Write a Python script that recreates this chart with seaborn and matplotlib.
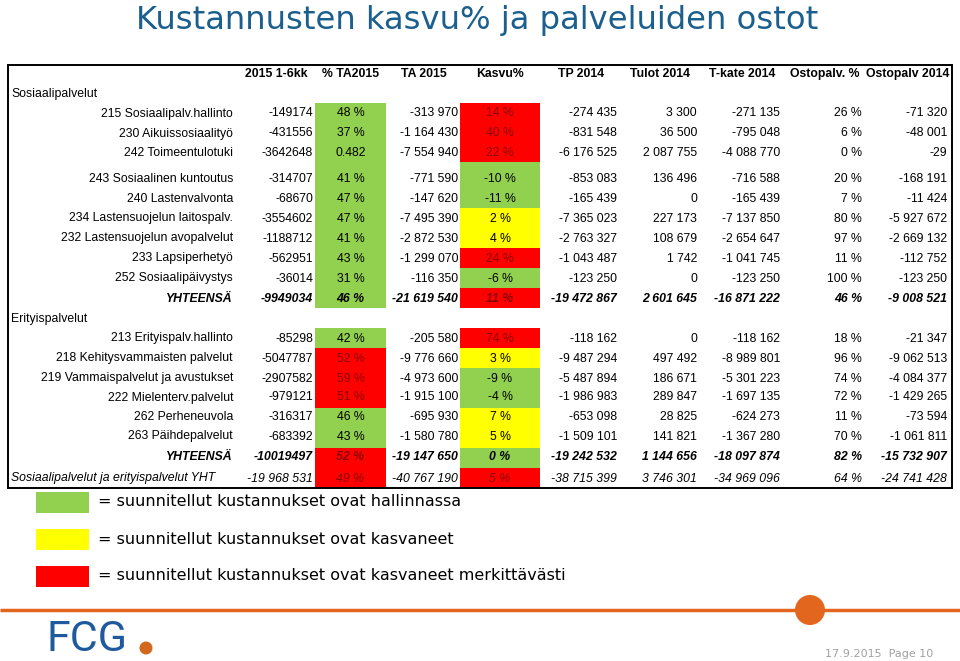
import numpy as np
import pandas as pd
import matplotlib
matplotlib.use("Agg")
import matplotlib.pyplot as plt
from matplotlib.colors import ListedColormap
from matplotlib.patches import Rectangle, Circle
import seaborn as sns

# ---------------- data ----------------
title = "Kustannusten kasvu% ja palveluiden ostot"
headers = ["2015 1-6kk", "% TA2015", "TA 2015", "Kasvu%", "TP 2014",
           "Tulot 2014", "T-kate 2014", "Ostopalv. %", "Ostopalv 2014"]
section_names = ["Sosiaalipalvelut", "Erityispalvelut"]

labels_1 = ["215 Sosiaalipalv.hallinto", "230 Aikuissosiaalityö", "242 Toimeentulotuki",
            "243 Sosiaalinen kuntoutus", "240 Lastenvalvonta", "234 Lastensuojelun laitospalv.",
            "232 Lastensuojelun avopalvelut", "233 Lapsiperhetyö", "252 Sosiaalipäivystys",
            "YHTEENSÄ"]
h2015_1 = ["-149174", "-431556", "-3642648", "-314707", "-68670", "-3554602",
           "-1188712", "-562951", "-36014", "-9949034"]
pta_1 = ["48 %", "37 %", "0.482", "41 %", "47 %", "47 %", "41 %", "43 %", "31 %", "46 %"]
pta_status_1 = ["g", "g", "g", "g", "g", "g", "g", "g", "g", "g"]
ta2015_1 = ["-313 970", "-1 164 430", "-7 554 940", "-771 590", "-147 620", "-7 495 390",
            "-2 872 530", "-1 299 070", "-116 350", "-21 619 540"]
kasvu_1 = ["14 %", "40 %", "22 %", "-10 %", "-11 %", "2 %", "4 %", "24 %", "-6 %", "11 %"]
kasvu_status_1 = ["r", "r", "r", "g", "g", "y", "y", "r", "g", "r"]
tp2014_1 = ["-274 435", "-831 548", "-6 176 525", "-853 083", "-165 439", "-7 365 023",
            "-2 763 327", "-1 043 487", "-123 250", "-19 472 867"]
tulot_1 = ["3 300", "36 500", "2 087 755", "136 496", "0", "227 173", "108 679",
           "1 742", "0", "2 601 645"]
tkate_1 = ["-271 135", "-795 048", "-4 088 770", "-716 588", "-165 439", "-7 137 850",
           "-2 654 647", "-1 041 745", "-123 250", "-16 871 222"]
ostop_1 = ["26 %", "6 %", "0 %", "20 %", "7 %", "80 %", "97 %", "11 %", "100 %", "46 %"]
osto2014_1 = ["-71 320", "-48 001", "-29", "-168 191", "-11 424", "-5 927 672",
              "-2 669 132", "-112 752", "-123 250", "-9 008 521"]

labels_2 = ["213 Erityispalv.hallinto", "218 Kehitysvammaisten palvelut",
            "219 Vammaispalvelut ja avustukset", "222 Mielenterv.palvelut",
            "262 Perheneuvola", "263 Päihdepalvelut", "YHTEENSÄ",
            "Sosiaalipalvelut ja erityispalvelut YHT"]
h2015_2 = ["-85298", "-5047787", "-2907582", "-979121", "-316317", "-683392",
           "-10019497", "-19 968 531"]
pta_2 = ["42 %", "52 %", "59 %", "51 %", "46 %", "43 %", "52 %", "49 %"]
pta_status_2 = ["g", "r", "r", "r", "g", "g", "r", "r"]
ta2015_2 = ["-205 580", "-9 776 660", "-4 973 600", "-1 915 100", "-695 930",
            "-1 580 780", "-19 147 650", "-40 767 190"]
kasvu_2 = ["74 %", "3 %", "-9 %", "-4 %", "7 %", "5 %", "0 %", "5 %"]
kasvu_status_2 = ["r", "y", "g", "g", "y", "y", "g", "r"]
tp2014_2 = ["-118 162", "-9 487 294", "-5 487 894", "-1 986 983", "-653 098",
            "-1 509 101", "-19 242 532", "-38 715 399"]
tulot_2 = ["0", "497 492", "186 671", "289 847", "28 825", "141 821", "1 144 656", "3 746 301"]
tkate_2 = ["-118 162", "-8 989 801", "-5 301 223", "-1 697 135", "-624 273",
           "-1 367 280", "-18 097 874", "-34 969 096"]
ostop_2 = ["18 %", "96 %", "74 %", "72 %", "11 %", "70 %", "82 %", "64 %"]
osto2014_2 = ["-21 347", "-9 062 513", "-4 084 377", "-1 429 265", "-73 594",
              "-1 061 811", "-15 732 907", "-24 741 428"]

legend_labels = ["= suunnitellut kustannukset ovat hallinnassa",
                 "= suunnitellut kustannukset ovat kasvaneet",
                 "= suunnitellut kustannukset ovat kasvaneet merkittävästi"]
footer_logo = "FCG"
footer_date = "17.9.2015  Page 10"

# ---------------- styling / layout ----------------
status_code = {"g": 0, "y": 1, "r": 2}
status_colors = ["#92D050", "#FFFF00", "#FF0000"]
cmap = ListedColormap(status_colors)
TXT_FONT = "Liberation Sans"
FS = 8.8
RED_TXT = "#8B0000"

sns.set_theme(style="white")
plt.rcParams["font.family"] = ["DejaVu Sans"]

W, H = 960, 661
fig = plt.figure(figsize=(W / 100, H / 100), dpi=100)
fig.patch.set_facecolor("white")

sections = [
    dict(labels=labels_1, h2015=h2015_1, pta=pta_1, pst=pta_status_1, ta=ta2015_1,
         kasvu=kasvu_1, kst=kasvu_status_1, tp=tp2014_1, tulot=tulot_1, tkate=tkate_1,
         ostop=ostop_1, osto=osto2014_1,
         top=103, heights=[20, 20, 19, 26, 20, 20, 20, 20, 20, 20],
         blocks=[(0, 3), (3, 4), (4, 10)], head_y=94),
    dict(labels=labels_2, h2015=h2015_2, pta=pta_2, pst=pta_status_2, ta=ta2015_2,
         kasvu=kasvu_2, kst=kasvu_status_2, tp=tp2014_2, tulot=tulot_2, tkate=tkate_2,
         ostop=ostop_2, osto=osto2014_2,
         top=328, heights=[20, 20, 20, 19, 20, 19, 21, 21],
         blocks=[(0, 8)], head_y=319),
]

# coloured columns (x-extent of cells)
pta_x = (315, 386)
kasvu_x = (460, 540)

# ---- coloured cells via seaborn heatmaps ----
for sec in sections:
    edges = np.concatenate([[sec["top"]], sec["top"] + np.cumsum(sec["heights"])])
    sec["edges"] = edges
    for (a, b) in sec["blocks"]:
        y0, y1 = edges[a], edges[b]
        for (x0, x1), st, name in [(pta_x, sec["pst"], "% TA2015"),
                                   (kasvu_x, sec["kst"], "Kasvu%")]:
            df = pd.DataFrame({name: [status_code[s] for s in st[a:b]]})
            hax = fig.add_axes([x0 / W, 1 - y1 / H, (x1 - x0) / W, (y1 - y0) / H])
            sns.heatmap(df, ax=hax, cmap=cmap, vmin=-0.5, vmax=2.5, cbar=False,
                        xticklabels=False, yticklabels=False, linewidths=0)
            hax.set_axis_off()

# ---- overlay axes in pixel coordinates ----
ov = fig.add_axes([0, 0, 1, 1])
ov.set_xlim(0, W)
ov.set_ylim(H, 0)
ov.axis("off")

# title
ov.text(136, 20, title, ha="left", va="center", fontsize=23.2, color="#1B5F8F",
        fontfamily="DejaVu Sans")

# table frame
ov.add_patch(Rectangle((8, 65), 944, 423, fill=False, edgecolor="black", lw=1.4))

# header
head_x = [276, 351, 424, 500, 581, 660, 742, 825, 908]
for hx, hd in zip(head_x, headers):
    ov.text(hx, 74, hd, ha="center", va="center", fontsize=FS, fontweight="bold",
            fontfamily=TXT_FONT, color="black")

col_right = dict(h2015=313, ta=458, tp=617, tulot=697, tkate=780, ostop=862, osto=947)
center_x = dict(pta=350.5, kasvu=500)

for si, sec in enumerate(sections):
    ov.text(11, sec["head_y"], section_names[si], ha="left", va="center", fontsize=FS,
            fontfamily=TXT_FONT, color="black")
    edges = sec["edges"]
    n = len(sec["labels"])
    for i in range(n):
        yc = edges[i + 1] - 9.5
        lab = sec["labels"][i]
        is_tot = lab == "YHTEENSÄ"
        is_grand = lab.endswith("YHT")
        weight = "bold" if is_tot else "normal"
        style = "italic" if (is_tot or is_grand) else "normal"
        kw = dict(va="center", fontsize=FS, fontfamily=TXT_FONT, fontweight=weight,
                  fontstyle=style)
        if is_grand:
            ov.text(11, yc, lab, ha="left", color="black", **kw)
        else:
            ov.text(233, yc, lab, ha="right", color="black", **kw)
        for key in ["h2015", "ta", "tp", "tulot", "tkate", "ostop", "osto"]:
            ov.text(col_right[key], yc, sec[key][i], ha="right", color="black", **kw)
        ov.text(center_x["pta"], yc, sec["pta"][i], ha="center",
                color=RED_TXT if sec["pst"][i] == "r" else "black", **kw)
        ov.text(center_x["kasvu"], yc, sec["kasvu"][i], ha="center",
                color=RED_TXT if sec["kst"][i] == "r" else "black", **kw)

# legend
leg_y = [502, 539, 576]
for ly, lab, col in zip(leg_y, legend_labels, status_colors):
    ov.add_patch(Rectangle((36, ly - 10.5), 53, 21, facecolor=col, edgecolor="none"))
    ov.text(98, ly, lab, ha="left", va="center", fontsize=11.5, color="black",
            fontfamily="DejaVu Sans")

# footer
ov.plot([0, W], [610, 610], color="#E2661E", lw=2.5, solid_capstyle="butt")
ov.add_patch(Circle((810, 610), 15, facecolor="#E2661E", edgecolor="none"))
ov.text(47, 660, footer_logo, ha="left", va="bottom", fontsize=31, color="#1F5A9E",
        fontfamily="Roboto")
ov.add_patch(Circle((146, 648), 6.5, facecolor="#D2691E", edgecolor="none"))
ov.text(933, 654, footer_date, ha="right", va="center", fontsize=8, color="#A0A0A0",
        fontfamily="DejaVu Sans")

fig.savefig("out.png", dpi=100, facecolor="white")
